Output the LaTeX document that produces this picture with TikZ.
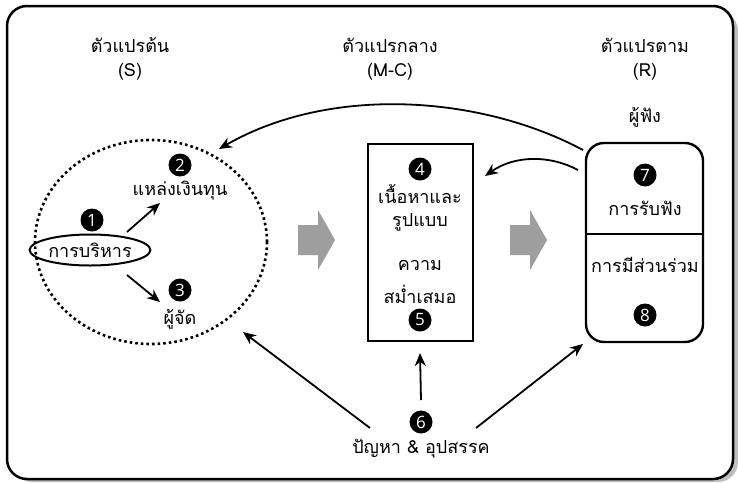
\documentclass[tikz,border=0pt]{standalone}
\usepackage{fontspec}
\newfontfamily\thaifont[Script=Thai]{Loma}
\newfontfamily\numfont{Open Sans}
\usetikzlibrary{arrows.meta,shapes.geometric}
\tikzset{
  lbl/.style={font=\thaifont\fontsize{18}{20}\selectfont, inner sep=1pt, align=center},
  num/.style={circle, fill=black, text=white, inner sep=0pt, minimum size=23pt, font=\numfont\fontsize{17}{17}\selectfont},
  arr/.style={-{Stealth[length=13pt,width=11pt]}, line width=1.8pt},
  blockarrow/.style={fill=black!38, draw=none}
}
\begin{document}
\begin{tikzpicture}[x=1pt,y=-1pt]
\useasboundingbox (0,0) rectangle (738,482);
% frame with shadow
\fill[black!25, rounded corners=20pt] (12,11) rectangle (738,482);
\draw[line width=2.5pt, fill=white, rounded corners=20pt] (7,6) rectangle (733,479);
% headers
\node[lbl] (hS) at (130,45) {ตัวแปรต้น};
\node[lbl] (hS2) at (130,72) {(S)};
\node[lbl] (hM) at (390,45) {ตัวแปรกลาง};
\node[lbl] (hM2) at (390,72) {(M-C)};
\node[lbl] (hR) at (645,45) {ตัวแปรตาม};
\node[lbl] (hR2) at (645,72) {(R)};
\node[lbl] (listener) at (645,117) {ผู้ฟัง};
% left dotted ellipse
\node[ellipse, draw, line width=2.6pt, dash pattern=on 2.6pt off 3pt, minimum width=232pt, minimum height=204pt] (src) at (151,242) {};
\node[ellipse, draw, line width=2pt, inner sep=0pt, minimum width=110pt, minimum height=31pt, lbl] (admin) at (90,250) {การบริหาร};
\node[num] (n1) at (92,220) {1};
\node[num] (n2) at (180,165) {2};
\node[lbl] (fund) at (180,191) {แหล่งเงินทุน};
\node[num] (n3) at (180,290) {3};
\node[lbl] (org) at (180,319) {ผู้จัด};
\coordinate (a1s) at (127,232);
\coordinate (a1e) at (160,203);
\coordinate (a2s) at (127,275);
\coordinate (a2e) at (160,302);
\draw[arr] (a1s) -- (a1e);
\draw[arr] (a2s) -- (a2e);
% middle box
\draw[line width=2.4pt] (368,144) rectangle (473,341);
\node[num] (n4) at (420,169) {4};
\node[lbl] (c1) at (420,194) {เนื้อหาและ};
\node[lbl] (c2) at (420,222) {รูปแบบ};
\node[lbl] (c3) at (420,265) {ความ};
\node[lbl] (c4) at (420,294) {สม่ำเสมอ};
\node[num] (n5) at (420,320) {5};
\coordinate (mboxS) at (420,353);
\coordinate (mboxE) at (485,176);
% right rounded box
\draw[line width=2.4pt, rounded corners=18pt] (586,143) rectangle (703,342);
\draw[line width=1.4pt] (586,234) -- (703,234);
\node[num] (n7) at (645,175) {7};
\node[lbl] (r1) at (645,208) {การรับฟัง};
\node[lbl] (r2) at (645,265) {การมีส่วนร่วม};
\node[num] (n8) at (645,315) {8};
% block arrows
\fill[blockarrow] (298,225) -- (318,225) -- (318,210) -- (335,240) -- (318,270) -- (318,255) -- (298,255) -- cycle;
\fill[blockarrow] (510,225) -- (530,225) -- (530,210) -- (547,240) -- (530,270) -- (530,255) -- (510,255) -- cycle;
% bottom
\node[num] (n6) at (421,422) {6};
\node[lbl] (prob) at (421,449) {ปัญหา \& อุปสรรค};
\coordinate (rbTop) at (583,150);
\coordinate (rbMid) at (578,170);
\coordinate (srcTop) at (219,149);
\coordinate (srcBot) at (243,332);
\coordinate (rbBot) at (583,344);
\coordinate (pL) at (370,428);
\coordinate (pR) at (476,428);
\coordinate (pM) at (421,400);
\draw[arr] (rbTop) .. controls (480,95) and (330,85) .. (srcTop);
\draw[arr] (rbMid) .. controls (550,155) and (515,155) .. (mboxE);
\draw[arr] (pM) -- (mboxS);
\draw[arr] (pL) -- (srcBot);
\draw[arr] (pR) -- (rbBot);
\end{tikzpicture}
\end{document}
